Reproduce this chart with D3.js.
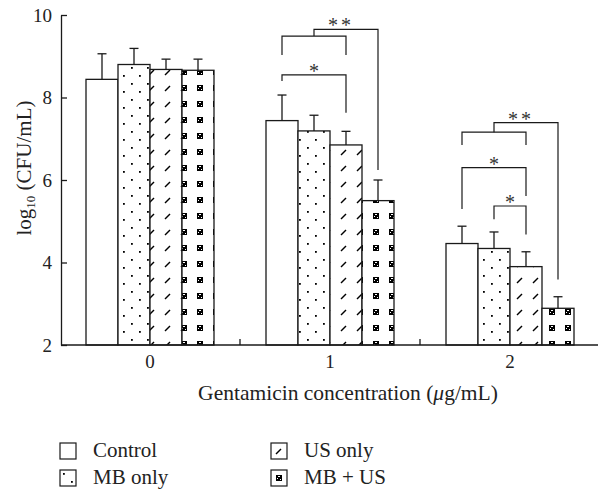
<!DOCTYPE html>
<html>
<head>
<meta charset="utf-8">
<script src="https://cdn.jsdelivr.net/npm/d3@7"></script>
<style>
  body { margin: 0; background: #fff; }
  svg text { font-family: "Liberation Serif", "DejaVu Serif", serif; }
</style>
</head>
<body>
<svg id="chart" width="598" height="490"></svg>
<script>
var groups = ["0", "1", "2"]
var series = ["Control", "MB only", "US only", "MB + US"]
var yTicks = [2, 4, 6, 8, 10]

var controlMean = [8.44, 7.44, 4.46]
var controlSd = [0.62, 0.62, 0.42]
var mbOnlyMean = [8.80, 7.19, 4.34]
var mbOnlySd = [0.39, 0.38, 0.40]
var usOnlyMean = [8.68, 6.85, 3.90]
var usOnlySd = [0.25, 0.33, 0.36]
var mbUsMean = [8.66, 5.50, 2.89]
var mbUsSd = [0.27, 0.50, 0.28]

// significance brackets, levels in log10 units
var brackets = [
    {group: "1", left: ["Control"], right: ["US only"], level: 9.49, leftEnd: 9.03, rightEnd: 9.03, label: ""},
    {group: "1", left: ["Control", "US only"], right: ["MB + US"], level: 9.65, leftEnd: 9.49, rightEnd: 6.24, label: "**"},
    {group: "1", left: ["Control"], right: ["US only"], level: 8.55, leftEnd: 8.40, rightEnd: 7.63, label: "*"},
    {group: "2", left: ["Control"], right: ["US only"], level: 7.16, leftEnd: 6.85, rightEnd: 6.85, label: ""},
    {group: "2", left: ["Control", "US only"], right: ["MB + US"], level: 7.39, leftEnd: 7.16, rightEnd: 3.59, label: "**"},
    {group: "2", left: ["Control"], right: ["US only"], level: 6.30, leftEnd: 5.30, rightEnd: 5.61, label: "*"},
    {group: "2", left: ["MB only"], right: ["US only"], level: 5.37, leftEnd: 5.05, rightEnd: 4.68, label: "*"}
]

var means = [controlMean, mbOnlyMean, usOnlyMean, mbUsMean]
var sds = [controlSd, mbOnlySd, usOnlySd, mbUsSd]
var fills = ["#fff", "url(#dots)", "url(#slash)", "url(#checks)"]

var bars = []
series.forEach((s, i) => {
    groups.forEach((g, j) => {
        bars.push({series: s, group: g, value: means[i][j], sd: sds[i][j], fill: fills[i]})
    })
})

var svg = d3.select("#chart")
var ink = "#1a1a1a"
var serif = "Liberation Serif"

// fill patterns
var defs = svg.append("defs")
var dots = defs.append("pattern").attr("id", "dots")
    .attr("patternUnits", "userSpaceOnUse").attr("width", 16).attr("height", 16)
dots.append("rect").attr("width", 16).attr("height", 16).attr("fill", "#fff")
dots.append("rect").attr("x", 3).attr("y", 3).attr("width", 1.8).attr("height", 1.8).attr("fill", "#000")
dots.append("rect").attr("x", 11).attr("y", 11).attr("width", 1.8).attr("height", 1.8).attr("fill", "#000")

var slash = defs.append("pattern").attr("id", "slash")
    .attr("patternUnits", "userSpaceOnUse").attr("width", 16).attr("height", 16)
slash.append("rect").attr("width", 16).attr("height", 16).attr("fill", "#fff")
slash.append("line").attr("x1", 5).attr("y1", 11).attr("x2", 10).attr("y2", 6)
    .attr("stroke", "#000").attr("stroke-width", 1.4)

var checks = defs.append("pattern").attr("id", "checks")
    .attr("patternUnits", "userSpaceOnUse").attr("width", 16).attr("height", 16)
checks.append("rect").attr("width", 16).attr("height", 16).attr("fill", "#fff")
checks.append("rect").attr("x", 5).attr("y", 5).attr("width", 6).attr("height", 6).attr("fill", "#000")
checks.append("rect").attr("x", 7).attr("y", 6).attr("width", 2).attr("height", 1).attr("fill", "#fff")
checks.append("rect").attr("x", 6).attr("y", 8).attr("width", 1).attr("height", 1).attr("fill", "#fff")
checks.append("rect").attr("x", 9).attr("y", 9).attr("width", 1).attr("height", 1).attr("fill", "#fff")

// scales
var x = d3.scaleBand().domain(groups).range([60, 600])
var xInner = d3.scaleBand().domain(series).range([26, 154])
var y = d3.scaleLinear().domain([2, 10]).range([345, 15])

var barX = (d) => x(d.group) + xInner(d.series)
var centerOf = (g, list) => d3.mean(list, (s) => x(g) + xInner(s) + xInner.bandwidth() / 2)

// bars
svg.append("g")
    .selectAll("rect")
    .data(bars)
    .enter().append("rect")
    .attr("x", barX)
    .attr("y", (d) => y(d.value))
    .attr("width", xInner.bandwidth())
    .attr("height", (d) => y(2) - y(d.value))
    .attr("fill", (d) => d.fill)
    .attr("stroke", ink)
    .attr("stroke-width", 1.3)

// error bars (upper only)
var err = svg.append("g").attr("stroke", ink).attr("stroke-width", 1.3)
err.selectAll("line.stem")
    .data(bars)
    .enter().append("line")
    .attr("class", "stem")
    .attr("x1", (d) => barX(d) + xInner.bandwidth() / 2)
    .attr("x2", (d) => barX(d) + xInner.bandwidth() / 2)
    .attr("y1", (d) => y(d.value))
    .attr("y2", (d) => y(d.value + d.sd))
err.selectAll("line.cap")
    .data(bars)
    .enter().append("line")
    .attr("class", "cap")
    .attr("x1", (d) => barX(d) + xInner.bandwidth() / 2 - 4.5)
    .attr("x2", (d) => barX(d) + xInner.bandwidth() / 2 + 4.5)
    .attr("y1", (d) => y(d.value + d.sd))
    .attr("y2", (d) => y(d.value + d.sd))

// brackets
var br = svg.append("g")
br.selectAll("path")
    .data(brackets)
    .enter().append("path")
    .attr("fill", "none")
    .attr("stroke", ink)
    .attr("stroke-width", 1.2)
    .attr("d", (d) => {
        var x1 = centerOf(d.group, d.left)
        var x2 = centerOf(d.group, d.right)
        return "M" + x1 + "," + y(d.leftEnd) + "V" + y(d.level) + "H" + x2 + "V" + y(d.rightEnd)
    })
br.selectAll("text")
    .data(brackets.filter((d) => d.label))
    .enter().append("text")
    .attr("x", (d) => (centerOf(d.group, d.left) + centerOf(d.group, d.right)) / 2 + (d.label.length > 1 ? -5 : 0))
    .attr("y", (d) => y(d.level) + 3)
    .attr("text-anchor", "middle")
    .attr("font-family", serif)
    .attr("font-size", 20)
    .attr("letter-spacing", (d) => d.label.length > 1 ? 3 : 0)
    .attr("fill", "#333")
    .text((d) => d.label)

// axes
var yAxis = svg.append("g")
    .attr("transform", "translate(61,0)")
    .call(d3.axisLeft(y).tickValues(yTicks).tickSizeInner(-6).tickSizeOuter(0).tickPadding(9))
yAxis.select(".domain").attr("stroke", ink).attr("stroke-width", 1.3)
yAxis.selectAll(".tick line").attr("stroke", ink).attr("stroke-width", 1.3)
yAxis.selectAll(".tick text").attr("font-size", 19).attr("font-family", serif).attr("fill", "#222")

var xAxis = svg.append("g")
    .attr("transform", "translate(0,345)")
    .call(d3.axisBottom(x).tickSize(0).tickPadding(10))
xAxis.select(".domain").attr("stroke", ink).attr("stroke-width", 1.3).attr("d", "M61,0H598")
xAxis.selectAll(".tick text").attr("font-size", 19).attr("font-family", serif).attr("fill", "#222")
xAxis.selectAll("line.minor")
    .data(groups.slice(1))
    .enter().append("line")
    .attr("class", "minor")
    .attr("x1", (g) => x(g)).attr("x2", (g) => x(g))
    .attr("y1", 0).attr("y2", -6)
    .attr("stroke", ink).attr("stroke-width", 1.3)

// axis titles
var xTitle = svg.append("text")
    .attr("x", 348).attr("y", 400)
    .attr("text-anchor", "middle")
    .attr("font-family", serif)
    .attr("font-size", 21.5)
    .attr("fill", "#222")
xTitle.append("tspan").text("Gentamicin concentration (")
xTitle.append("tspan").attr("font-style", "italic").text("μ")
xTitle.append("tspan").text("g/mL)")

var yTitle = svg.append("text")
    .attr("transform", "translate(31,168) rotate(-90)")
    .attr("text-anchor", "middle")
    .attr("font-family", serif)
    .attr("font-size", 21)
    .attr("fill", "#222")
yTitle.append("tspan").text("log")
yTitle.append("tspan").attr("font-size", 13).attr("dy", 4).text("10")
yTitle.append("tspan").attr("dy", -4).text(" (CFU/mL)")

// legend
var legendCols = [60, 271]
var legend = svg.append("g")
    .selectAll("g")
    .data(series)
    .enter().append("g")
    .attr("transform", (s, i) => "translate(" + legendCols[Math.floor(i / 2)] + "," + (443 + (i % 2) * 27) + ")")
legend.append("rect")
    .attr("width", 16).attr("height", 16)
    .attr("fill", (s, i) => fills[i])
    .attr("stroke", ink).attr("stroke-width", 1.2)
legend.append("text")
    .attr("x", 33).attr("y", 14)
    .attr("font-family", serif)
    .attr("font-size", 21)
    .attr("fill", "#222")
    .text((s) => s)
</script>
</body>
</html>
